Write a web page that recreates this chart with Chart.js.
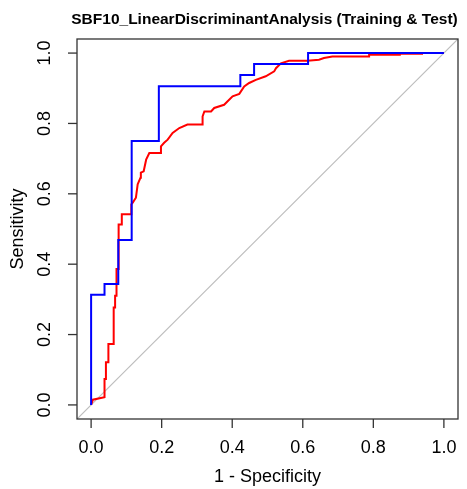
<!DOCTYPE html>
<html>
<head>
<meta charset="utf-8">
<script src="https://cdn.jsdelivr.net/npm/chart.js@4/dist/chart.umd.min.js"></script>
<style>
  html, body { margin: 0; padding: 0; background: #ffffff; }
  canvas { display: block; }
</style>
</head>
<body>
<canvas id="roc" width="467" height="489"></canvas>
<script>
  const TITLE = "SBF10_LinearDiscriminantAnalysis (Training & Test)";
  const X_LABEL = "1 - Specificity";
  const Y_LABEL = "Sensitivity";

  const tickValues = [0, 0.2, 0.4, 0.6, 0.8, 1.0];
  const tickLabels = ["0.0", "0.2", "0.4", "0.6", "0.8", "1.0"];

  // training ROC (red)
  const trainX = [0, 0.005, 0.038, 0.038, 0.042, 0.042, 0.049, 0.049, 0.064, 0.064,
    0.068, 0.068, 0.072, 0.072, 0.078, 0.078, 0.087, 0.087, 0.099, 0.114,
    0.114, 0.118, 0.127, 0.132, 0.14, 0.141, 0.149, 0.156, 0.165, 0.198,
    0.198, 0.207, 0.217, 0.231, 0.25, 0.273, 0.316, 0.316, 0.321, 0.34,
    0.349, 0.377, 0.387, 0.401, 0.42, 0.434, 0.448, 0.467, 0.495, 0.519,
    0.524, 0.538, 0.561, 0.613, 0.646, 0.66, 0.684, 0.788, 0.788, 0.875,
    0.875, 0.938, 0.938, 1.0];
  const trainY = [0, 0.015, 0.022, 0.074, 0.074, 0.121, 0.121, 0.173, 0.173, 0.277,
    0.277, 0.31, 0.31, 0.386, 0.386, 0.513, 0.513, 0.542, 0.542, 0.542,
    0.57, 0.575, 0.589, 0.627, 0.646, 0.66, 0.664, 0.697, 0.716, 0.716,
    0.735, 0.745, 0.754, 0.773, 0.787, 0.797, 0.797, 0.82, 0.834, 0.834,
    0.844, 0.853, 0.863, 0.877, 0.884, 0.905, 0.915, 0.924, 0.934, 0.948,
    0.957, 0.971, 0.978, 0.978, 0.981, 0.986, 0.99, 0.99, 0.995, 0.995,
    0.998, 0.998, 1.0, 1.0];

  // test ROC (blue)
  const testX = [0, 0, 0.038, 0.038, 0.077, 0.077, 0.115, 0.115, 0.192, 0.192,
    0.423, 0.423, 0.462, 0.462, 0.615, 0.615, 1.0];
  const testY = [0, 0.313, 0.313, 0.344, 0.344, 0.469, 0.469, 0.75, 0.75, 0.906,
    0.906, 0.938, 0.938, 0.969, 0.969, 1.0, 1.0];

  const diagX = [-0.04, 1.04];
  const diagY = [-0.04, 1.04];

  function toPoints(xs, ys) {
    return xs.map((x, i) => ({ x: x, y: ys[i] }));
  }

  const FONT = '"Liberation Sans", Arial, sans-serif';

  const rAxes = {
    id: "rAxes",
    afterDatasetsDraw(chart) {
      const { ctx, chartArea: a, scales } = chart;
      const sx = scales.x;
      const sy = scales.y;
      ctx.save();
      ctx.strokeStyle = "#333333";
      ctx.lineWidth = 1.3;
      ctx.strokeRect(a.left, a.top, a.right - a.left, a.bottom - a.top);

      ctx.fillStyle = "#000000";
      ctx.font = "18px " + FONT;
      ctx.textAlign = "center";
      ctx.textBaseline = "middle";

      tickValues.forEach((v, i) => {
        const px = sx.getPixelForValue(v);
        ctx.beginPath();
        ctx.moveTo(px, a.bottom);
        ctx.lineTo(px, a.bottom + 9);
        ctx.stroke();
        ctx.fillText(tickLabels[i], px, a.bottom + 29);
      });

      tickValues.forEach((v, i) => {
        const py = sy.getPixelForValue(v);
        ctx.beginPath();
        ctx.moveTo(a.left, py);
        ctx.lineTo(a.left - 9, py);
        ctx.stroke();
        ctx.save();
        ctx.translate(a.left - 32, py);
        ctx.rotate(-Math.PI / 2);
        ctx.fillText(tickLabels[i], 0, 0);
        ctx.restore();
      });

      const cx = (a.left + a.right) / 2;
      const cy = (a.top + a.bottom) / 2;
      ctx.fillText(X_LABEL, cx, 477);
      ctx.save();
      ctx.translate(18, cy);
      ctx.rotate(-Math.PI / 2);
      ctx.fillText(Y_LABEL, 0, 0);
      ctx.restore();

      ctx.font = "bold 15.5px " + FONT;
      ctx.fillText(TITLE, cx - 3, 20);
      ctx.restore();
    },
  };

  new Chart(document.getElementById("roc"), {
    type: "scatter",
    data: {
      datasets: [
        {
          label: "Test",
          data: toPoints(testX, testY),
          showLine: true,
          borderColor: "#0000ff",
          borderWidth: 2,
          pointRadius: 0,
          tension: 0,
          order: 1,
        },
        {
          label: "Training",
          data: toPoints(trainX, trainY),
          showLine: true,
          borderColor: "#ff0000",
          borderWidth: 2,
          pointRadius: 0,
          tension: 0,
          order: 2,
        },
        {
          label: "Chance",
          data: toPoints(diagX, diagY),
          showLine: true,
          borderColor: "#bdbdbd",
          borderWidth: 1.2,
          pointRadius: 0,
          tension: 0,
          order: 3,
        },
      ],
    },
    options: {
      responsive: false,
      animation: false,
      devicePixelRatio: 1,
      layout: {
        padding: { left: 77, right: 9, top: 39, bottom: 70 },
      },
      plugins: {
        legend: { display: false },
        tooltip: { enabled: false },
        title: { display: false },
      },
      scales: {
        x: { type: "linear", min: -0.04, max: 1.04, display: false },
        y: { type: "linear", min: -0.04, max: 1.04, display: false },
      },
    },
    plugins: [rAxes],
  });
</script>
</body>
</html>
